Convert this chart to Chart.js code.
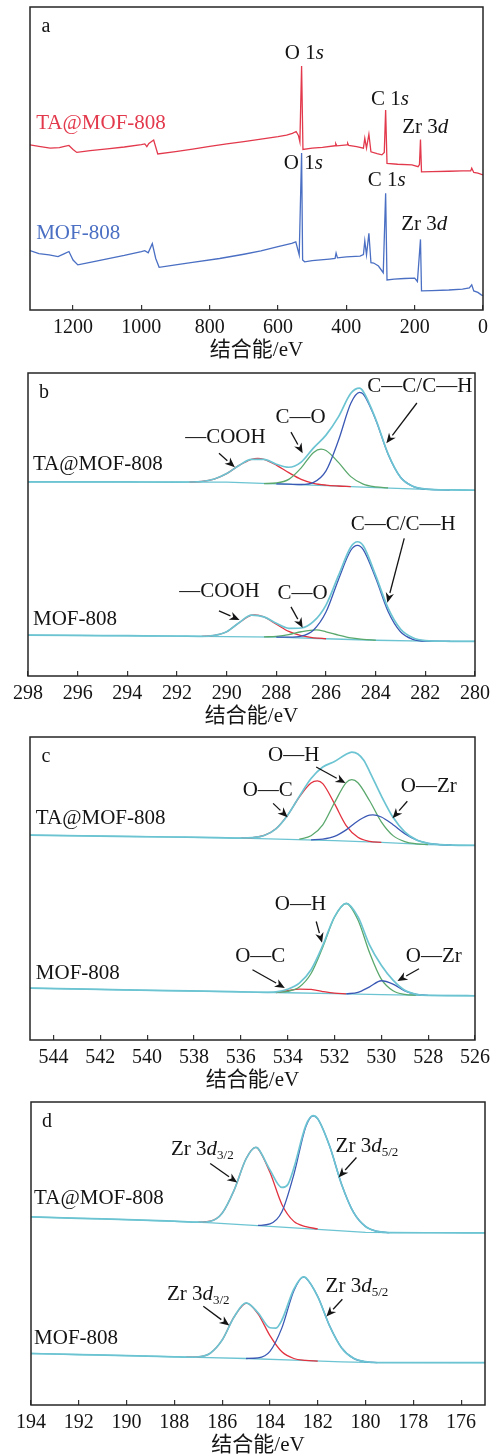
<!DOCTYPE html>
<html>
<head>
<meta charset="utf-8">
<script src="https://cdn.jsdelivr.net/npm/chart.js@4.4.1/dist/chart.umd.min.js"></script>
<style>
  html, body { margin: 0; padding: 0; background: #fff; width: 501px; height: 1456px; overflow: hidden; }
  .panel { position: absolute; left: 0; width: 501px; height: 364px; }
</style>
</head>
<body>
<div class="panel" style="top:0px"><canvas id="chartA" width="501" height="364"></canvas></div>
<div class="panel" style="top:366px"><canvas id="chartB" width="501" height="364"></canvas></div>
<div class="panel" style="top:730px"><canvas id="chartC" width="501" height="364"></canvas></div>
<div class="panel" style="top:1095px"><canvas id="chartD" width="501" height="364"></canvas></div>
<script>
// ---- a: survey spectra ----
const surveyE_TA = [1326, 1300, 1267, 1240, 1225, 1212, 1200, 1189, 1150, 1100, 1050, 1000, 990, 984, 978, 964, 952, 900, 850, 800, 750, 700, 650, 600, 575, 558, 547, 540, 536, 531, 527, 500, 470, 433, 431, 428, 398, 396, 393, 370, 350, 346, 341, 334, 328, 310, 296, 289, 285, 281, 250, 208, 190, 186, 183, 180, 150, 100, 60, 36, 33, 27, 15, 0];
const surveyI_TA = [54.5, 54.0, 53.4, 53.6, 54.0, 54.3, 53.0, 52.0, 52.6, 53.2, 53.8, 54.6, 54.8, 53.9, 55.0, 56.1, 51.5, 52.3, 53.1, 54.0, 54.8, 55.6, 56.4, 57.2, 57.7, 58.3, 58.9, 57.5, 55.5, 80.5, 53.0, 53.4, 53.7, 54.2, 54.9, 54.2, 54.5, 55.0, 54.3, 53.9, 53.4, 56.7, 53.4, 58.0, 52.2, 51.6, 51.2, 52.0, 66.0, 48.4, 48.1, 47.9, 47.3, 48.0, 56.3, 45.6, 45.7, 45.8, 45.9, 45.9, 46.8, 45.4, 45.2, 44.6];
const surveyE_MOF = [1326, 1300, 1270, 1244, 1225, 1212, 1200, 1186, 1150, 1100, 1050, 1000, 990, 980, 968, 958, 948, 900, 850, 771, 700, 650, 600, 560, 548, 538, 531, 528, 522, 500, 450, 433, 430, 426, 400, 360, 350, 346, 341, 334, 328, 320, 306, 292, 285, 281, 260, 230, 200, 192, 183, 180, 150, 100, 60, 40, 33, 27, 15, 5, 0];
const surveyI_MOF = [19.6, 18.6, 18.2, 17.6, 18.6, 19.3, 16.5, 14.9, 15.7, 16.9, 18.0, 19.3, 19.6, 18.9, 21.9, 17.0, 14.1, 14.9, 15.7, 17.0, 18.4, 19.5, 20.9, 22.0, 22.5, 18.2, 51.8, 16.5, 15.9, 16.3, 16.8, 17.0, 18.8, 17.2, 17.5, 17.8, 18.3, 22.8, 18.2, 25.3, 15.6, 15.5, 14.5, 12.3, 38.5, 9.9, 10.2, 10.4, 10.5, 9.4, 23.3, 6.3, 6.4, 6.6, 6.9, 7.3, 8.3, 6.3, 5.8, 5.0, 4.7];

// ---- b: C 1s ----
const c1sBaseE = [298, 291, 290, 288, 286, 284, 282, 280];
const c1sBase_TA = [64.1, 64.0, 64.0, 63.4, 62.8, 62.2, 61.6, 61.3];
const c1sEnvE_TA = [298, 296, 294, 292, 291, 290.5, 290, 289.5, 289, 288.5, 288, 287.5, 287, 286.5, 286, 285.5, 285, 284.65, 284.5, 284, 283.5, 283, 282.5, 282, 281, 280];
const c1sEnv_TA = [64.1, 64.1, 64.05, 64.0, 64.2, 65.0, 66.8, 69.5, 71.5, 71.5, 69.9, 68.9, 70.6, 75.3, 79.5, 85.5, 93.3, 95.0, 93.9, 84.8, 73.3, 65.6, 62.6, 61.7, 61.4, 61.3];
const c1sCoohE_TA = [291.5, 291, 290.5, 290, 289.5, 289, 288.75, 288.5, 288, 287.5, 287, 286.5, 286, 285.5, 285];
const c1sCooh_TA = [64.0, 64.2, 65.0, 66.8, 69.5, 71.5, 71.8, 71.5, 69.6, 67.1, 64.9, 63.6, 63.0, 62.7, 62.5];
const c1sCoE_TA = [288.5, 288, 287.5, 287, 286.5, 286.2, 286, 285.5, 285, 284.5, 284, 283.5];
const c1sCo_TA = [63.5, 63.7, 64.9, 68.7, 73.8, 74.9, 74.4, 70.5, 65.8, 63.3, 62.4, 62.1];
const c1sCcE_TA = [288, 287.5, 287, 286.5, 286, 285.5, 285, 284.65, 284.5, 284, 283.5, 283, 282.5, 282, 281.5, 281];
const c1sCc_TA = [63.4, 63.3, 63.2, 63.9, 67.7, 77.7, 90.0, 93.6, 93.0, 84.6, 73.2, 65.6, 62.6, 61.7, 61.5, 61.4];

const c1sBaseE_MOF = [298, 291, 288, 286, 284, 282, 280];
const c1sBase_MOF = [13.5, 13.1, 12.8, 12.3, 11.8, 11.5, 11.4];
const c1sEnvE_MOF = [298, 296, 294, 292, 291, 290.5, 290, 289.5, 289, 288.5, 288, 287.5, 287, 286.5, 286, 285.5, 285, 284.73, 284.5, 284, 283.5, 283, 282.5, 282, 281, 280];
const c1sEnv_MOF = [13.5, 13.4, 13.3, 13.2, 13.1, 13.4, 14.6, 17.6, 20.1, 19.5, 17.4, 15.75, 15.85, 18.0, 23.4, 33.1, 42.6, 44.3, 43.0, 33.2, 22.4, 15.5, 12.6, 11.7, 11.45, 11.4];
const c1sCoohE_MOF = [291, 290.5, 290, 289.5, 289, 288.87, 288.5, 288, 287.5, 287, 286.5, 286];
const c1sCooh_MOF = [13.1, 13.4, 14.6, 17.6, 20.1, 20.2, 19.5, 17.1, 14.7, 13.3, 12.6, 12.3];
const c1sCoE_MOF = [288.5, 288, 287.5, 287, 286.4, 286, 285.5, 285, 284.5, 284];
const c1sCo_MOF = [12.9, 13.1, 13.65, 14.6, 15.2, 14.6, 13.5, 12.55, 12.1, 11.8];
const c1sCcE_MOF = [288, 287.5, 287, 286.5, 286, 285.5, 285, 284.73, 284.5, 284, 283.5, 283, 282.5, 282, 281];
const c1sCc_MOF = [12.8, 12.8, 13.15, 15.2, 21.1, 31.8, 41.5, 43.1, 41.7, 32.3, 21.3, 14.6, 12.1, 11.5, 11.45];

// ---- c: O 1s ----
const o1sBaseE = [545, 540, 536, 534, 532, 530, 528, 526];
const o1sBase_TA = [67.6, 67.1, 66.6, 66.2, 65.8, 65.2, 64.5, 64.2];
const o1sEnvE_TA = [545, 542, 539, 537, 536, 535.5, 535, 534.5, 534, 533.5, 533, 532.5, 532, 531.5, 531.26, 531, 530.75, 530.5, 530, 529.5, 529, 528.5, 528, 527.5, 527, 526];
const o1sEnv_TA = [67.6, 67.3, 67.0, 66.8, 66.65, 66.8, 67.5, 69.7, 74.2, 80.4, 86.3, 90.1, 91.9, 94.3, 95.0, 94.4, 92.3, 88.6, 80.6, 73.5, 68.7, 66.05, 64.9, 64.5, 64.3, 64.2];
const o1sOcE_TA = [536, 535.5, 535, 534.5, 534, 533.5, 533, 532.73, 532.5, 532, 531.5, 531, 530.5, 530];
const o1sOc_TA = [66.65, 66.8, 67.5, 69.7, 74.2, 80.2, 84.8, 85.5, 84.6, 78.0, 70.75, 66.9, 65.55, 65.2];
const o1sOhE_TA = [533.5, 533, 532.5, 532, 531.5, 531.26, 531, 530.5, 530, 529.5, 529, 528.5, 528];
const o1sOh_TA = [66.3, 67.4, 71.0, 78.3, 84.95, 85.9, 84.9, 78.95, 72.0, 67.45, 65.5, 64.75, 64.5];
const o1sOzrE_TA = [533, 532.5, 532, 531.5, 531, 530.5, 530.36, 530, 529.5, 529, 528.5, 528, 527.5, 527];
const o1sOzr_TA = [66.07, 66.3, 67.2, 69.35, 72.3, 74.25, 74.3, 73.6, 71.05, 68.1, 66.0, 64.9, 64.5, 64.3];

const o1sBase_MOF = [17.1, 16.4, 15.9, 15.6, 15.3, 15.0, 14.7, 14.6];
const o1sEnvE_MOF = [545, 542, 539, 537, 536, 535, 534.5, 534, 533.5, 533, 532.5, 532, 531.5, 531, 530.5, 530, 529.5, 529, 528.5, 528, 527, 526];
const o1sEnv_MOF = [17.1, 16.7, 16.3, 16.05, 15.9, 15.75, 15.9, 16.75, 18.8, 23.2, 31.2, 40.65, 45.1, 40.7, 31.3, 24.65, 19.75, 16.4, 15.06, 14.7, 14.65, 14.6];
const o1sOcE_MOF = [534.5, 534, 533.5, 533, 532.5, 532, 531.5];
const o1sOc_MOF = [15.65, 16.3, 16.8, 16.7, 16.0, 15.45, 15.25];
const o1sOhE_MOF = [534.5, 534, 533.5, 533, 532.5, 532, 531.5, 531, 530.5, 530, 529.5, 529, 528.5];
const o1sOh_MOF = [15.7, 16.05, 17.5, 21.95, 30.6, 40.5, 45.05, 39.7, 28.8, 20.1, 16.25, 15.05, 14.8];
const o1sOzrE_MOF = [531.5, 531, 530.5, 530, 529.5, 529, 528.5, 528];
const o1sOzr_MOF = [15.25, 15.7, 17.55, 19.55, 18.45, 16.2, 15.06, 14.7];

// ---- d: Zr 3d ----
const zrBaseE_TA = [194, 190, 186.6, 184, 182, 180, 178, 175];
const zrBase_TA = [62.1, 61.2, 60.2, 58.94, 57.97, 57.0, 56.9, 56.8];
const zrEnvE_TA = [194, 192, 190, 188, 187, 186.5, 186, 185.5, 185, 184.6, 184.5, 184, 183.5, 183.25, 183, 182.5, 182.2, 182, 181.5, 181, 180.5, 180, 179.5, 179, 177, 175];
const zrEnv_TA = [62.1, 61.6, 61.2, 60.7, 60.35, 60.65, 63.3, 70.9, 81.25, 85.05, 84.7, 77.6, 71.8, 72.8, 78.2, 92.2, 95.5, 94.5, 85.4, 72.8, 63.55, 58.9, 57.3, 56.9, 56.85, 56.8];
const zr32E_TA = [187, 186.5, 186, 185.5, 185, 184.6, 184.5, 184, 183.5, 183, 182.5, 182];
const zr32_TA = [60.35, 60.65, 63.3, 70.9, 81.25, 85.0, 84.65, 76.8, 66.2, 60.6, 58.9, 58.1];
const zr52E_TA = [184.5, 184, 183.5, 183, 182.5, 182.2, 182, 181.5, 181, 180.5, 180, 179.5, 179];
const zr52_TA = [59.25, 59.75, 63.75, 76.05, 91.8, 95.45, 94.47, 85.4, 72.8, 63.55, 58.9, 57.3, 56.9];

const zrBaseE_MOF = [194, 190, 187, 185, 183, 181, 180, 175];
const zrBase_MOF = [17.0, 16.3, 15.7, 15.35, 14.8, 14.25, 14.05, 14.0];
const zrEnvE_MOF = [194, 192, 190, 188, 187.5, 187, 186.5, 186, 185.5, 185, 184.5, 184, 183.75, 183.5, 183, 182.6, 182.5, 182, 181.5, 181, 180.5, 180, 179.5, 177, 175];
const zrEnv_MOF = [17.0, 16.65, 16.3, 15.9, 15.8, 15.9, 17.1, 21.45, 29.05, 33.7, 30.45, 25.5, 25.4, 28.05, 38.25, 42.3, 42.05, 35.8, 26.05, 18.85, 15.4, 14.3, 14.0, 14.0, 14.0];
const zr32E_MOF = [187.5, 187, 186.5, 186, 185.5, 184.98, 184.5, 184, 183.5, 183, 182.5, 182];
const zr32_MOF = [15.8, 15.9, 17.1, 21.45, 29.05, 33.65, 30.1, 22.9, 17.55, 15.35, 14.75, 14.5];
const zr52E_MOF = [185, 184.5, 184, 183.5, 183, 182.61, 182.5, 182, 181.5, 181, 180.5, 180, 179.5];
const zr52_MOF = [15.35, 15.55, 17.7, 25.45, 37.7, 42.23, 41.95, 35.8, 26.05, 18.85, 15.4, 14.3, 14.0];

const SERIF = '"Liberation Serif", "Times New Roman", serif';
const CJK = '"Liberation Serif", "Noto Sans CJK SC", serif';
const RED = '#e3394c';
const BLUE = '#4a6fc3';
const CYAN = '#6cc4d2';
const FIT_RED = '#e2323f';
const FIT_GREEN = '#5aa86c';
const FIT_BLUE = '#3a58b4';
const INK = '#141414';

function pts(xs, ys) {
  return xs.map((x, i) => ({ x: x, y: ys[i] }));
}

// width: survey 1.3, fit components 1.3, envelope a bit wider so it covers them
function curve(xs, ys, color, order, smooth, width) {
  return {
    data: pts(xs, ys),
    borderColor: color,
    borderWidth: width || 1.3,
    pointRadius: 0,
    fill: false,
    order: order,
    tension: 0,
    cubicInterpolationMode: smooth ? 'monotone' : 'default'
  };
}

// box around the plot area
const framePlugin = {
  id: 'frame',
  afterDatasetsDraw(chart) {
    const { ctx, chartArea: a } = chart;
    ctx.save();
    ctx.strokeStyle = '#262626';
    ctx.lineWidth = 1.5;
    ctx.strokeRect(a.left, a.top, a.right - a.left, a.bottom - a.top);
    ctx.restore();
  }
};

// text with _italic_ and ~subscript~ parts
function drawRich(ctx, spec, x, y, align, size, color) {
  const parts = spec.split(/(_[^_]+_|~[^~]+~)/).filter(Boolean).map(p => {
    if (p[0] === '_') return { t: p.slice(1, -1), font: 'italic ' + size + 'px ' + SERIF, dy: 0 };
    if (p[0] === '~') return { t: p.slice(1, -1), font: Math.round(size * 0.62) + 'px ' + SERIF, dy: size * 0.28 };
    return { t: p, font: size + 'px ' + SERIF, dy: 0 };
  });
  let w = 0;
  parts.forEach(p => { ctx.font = p.font; p.w = ctx.measureText(p.t).width; w += p.w; });
  let cx = align === 'center' ? x - w / 2 : x;
  ctx.fillStyle = color;
  ctx.textAlign = 'left';
  ctx.textBaseline = 'middle';
  parts.forEach(p => { ctx.font = p.font; ctx.fillText(p.t, cx, y + p.dy); cx += p.w; });
}

function drawArrow(ctx, x1, y1, x2, y2) {
  const ang = Math.atan2(y2 - y1, x2 - x1);
  const len = 10, half = 4.2;
  const bx = x2 - len * Math.cos(ang), by = y2 - len * Math.sin(ang);
  ctx.strokeStyle = INK;
  ctx.lineWidth = 1.3;
  ctx.beginPath();
  ctx.moveTo(x1, y1);
  ctx.lineTo(bx, by);
  ctx.stroke();
  ctx.fillStyle = INK;
  ctx.beginPath();
  ctx.moveTo(x2, y2);
  ctx.lineTo(bx + half * Math.sin(ang), by - half * Math.cos(ang));
  ctx.lineTo(bx + 3 * Math.cos(ang), by + 3 * Math.sin(ang));
  ctx.lineTo(bx - half * Math.sin(ang), by + half * Math.cos(ang));
  ctx.closePath();
  ctx.fill();
}

function notesPlugin(letter, samples, notes, arrows) {
  return {
    id: 'notes',
    afterDatasetsDraw(chart) {
      const { ctx, chartArea: a, scales: { x, y } } = chart;
      ctx.save();
      ctx.font = '20px ' + SERIF;
      ctx.fillStyle = INK;
      ctx.textAlign = 'center';
      ctx.textBaseline = 'middle';
      ctx.fillText(letter, a.left + 16, a.top + 20);
      samples.forEach(s => drawRich(ctx, s.text, x.getPixelForValue(s.x), y.getPixelForValue(s.y), 'left', 21, s.color));
      notes.forEach(n => drawRich(ctx, n.text, x.getPixelForValue(n.x), y.getPixelForValue(n.y), 'center', 21, INK));
      arrows.forEach(r => drawArrow(ctx, x.getPixelForValue(r[0]), y.getPixelForValue(r[1]), x.getPixelForValue(r[2]), y.getPixelForValue(r[3])));
      ctx.restore();
    }
  };
}

function makeChart(id, o) {
  return new Chart(document.getElementById(id), {
    type: 'line',
    data: { datasets: o.datasets },
    options: {
      responsive: false,
      animation: false,
      devicePixelRatio: 1,
      layout: { padding: { left: o.pad[0], right: o.pad[1], top: 7, bottom: 0 } },
      plugins: { legend: { display: false }, tooltip: { enabled: false } },
      scales: {
        x: {
          type: 'linear',
          reverse: true,
          min: o.min,
          max: o.max,
          afterFit: s => { s.height = 54; },
          border: { display: false },
          grid: { drawOnChartArea: false, drawTicks: true, tickLength: -5, color: '#333', lineWidth: 1.2 },
          ticks: {
            stepSize: o.step, includeBounds: false, autoSkip: false, maxRotation: 0,
            padding: 11, color: INK, font: { family: SERIF, size: 20 },
            callback: v => String(v)
          },
          title: { display: true, text: '结合能/eV', color: INK, font: { family: CJK, size: 21 }, padding: { top: 0, bottom: 1 } }
        },
        y: { display: false, min: 0, max: 100 }
      }
    },
    plugins: [framePlugin, notesPlugin(o.letter, o.samples, o.notes, o.arrows)]
  });
}

makeChart('chartA', {
  pad: [30, 18], min: 0, max: 1326, step: 200, letter: 'a',
  datasets: [
    curve(surveyE_TA, surveyI_TA, RED, 1, false),
    curve(surveyE_MOF, surveyI_MOF, BLUE, 0, false)
  ],
  samples: [
    { text: 'TA@MOF-808', x: 1308, y: 61.7, color: RED },
    { text: 'MOF-808', x: 1308, y: 25.4, color: BLUE }
  ],
  notes: [
    { text: 'O 1_s_', x: 523, y: 84.8 },
    { text: 'C 1_s_', x: 272, y: 69.6 },
    { text: 'Zr 3_d_', x: 169, y: 60.4 },
    { text: 'O 1_s_', x: 526, y: 48.5 },
    { text: 'C 1_s_', x: 282, y: 42.6 },
    { text: 'Zr 3_d_', x: 172, y: 28.1 }
  ],
  arrows: []
});

makeChart('chartB', {
  pad: [28, 19], min: 280, max: 298, step: 2, letter: 'b',
  datasets: [
    curve(c1sBaseE, c1sBase_TA, CYAN, 5, false),
    curve(c1sCoohE_TA, c1sCooh_TA, FIT_RED, 3, true),
    curve(c1sCoE_TA, c1sCo_TA, FIT_GREEN, 2, true),
    curve(c1sCcE_TA, c1sCc_TA, FIT_BLUE, 1, true),
    curve(c1sEnvE_TA, c1sEnv_TA, CYAN, 0, true, 1.7),
    curve(c1sBaseE_MOF, c1sBase_MOF, CYAN, 5, false),
    curve(c1sCoohE_MOF, c1sCooh_MOF, FIT_RED, 3, true),
    curve(c1sCoE_MOF, c1sCo_MOF, FIT_GREEN, 2, true),
    curve(c1sCcE_MOF, c1sCc_MOF, FIT_BLUE, 1, true),
    curve(c1sEnvE_MOF, c1sEnv_MOF, CYAN, 0, true, 1.7)
  ],
  samples: [
    { text: 'TA@MOF-808', x: 297.8, y: 69.9, color: INK },
    { text: 'MOF-808', x: 297.8, y: 18.5, color: INK }
  ],
  notes: [
    { text: '—COOH', x: 290.05, y: 78.8 },
    { text: 'C—O', x: 287.02, y: 85.4 },
    { text: 'C—C/C—H', x: 282.22, y: 95.4 },
    { text: 'C—C/C—H', x: 282.89, y: 50.0 },
    { text: '—COOH', x: 290.29, y: 27.8 },
    { text: 'C—O', x: 286.94, y: 27.2 }
  ],
  arrows: [
    [290.31, 73.5, 289.67, 68.9],
    [287.41, 80.5, 286.94, 73.5],
    [282.34, 90.1, 283.57, 76.8],
    [282.85, 45.4, 283.53, 24.2],
    [290.31, 21.5, 289.48, 18.5],
    [287.41, 22.8, 286.94, 15.9]
  ]
});

makeChart('chartC', {
  pad: [30, 17], min: 526, max: 545, step: 2, letter: 'c',
  datasets: [
    curve(o1sBaseE, o1sBase_TA, CYAN, 5, false),
    curve(o1sOcE_TA, o1sOc_TA, FIT_RED, 3, true),
    curve(o1sOhE_TA, o1sOh_TA, FIT_GREEN, 2, true),
    curve(o1sOzrE_TA, o1sOzr_TA, FIT_BLUE, 1, true),
    curve(o1sEnvE_TA, o1sEnv_TA, CYAN, 0, true, 1.7),
    curve(o1sBaseE, o1sBase_MOF, CYAN, 5, false),
    curve(o1sOcE_MOF, o1sOc_MOF, FIT_RED, 3, true),
    curve(o1sOhE_MOF, o1sOh_MOF, FIT_GREEN, 2, true),
    curve(o1sOzrE_MOF, o1sOzr_MOF, FIT_BLUE, 1, true),
    curve(o1sEnvE_MOF, o1sEnv_MOF, CYAN, 0, true, 1.7)
  ],
  samples: [
    { text: 'TA@MOF-808', x: 544.75, y: 73.2, color: INK },
    { text: 'MOF-808', x: 544.75, y: 21.9, color: INK }
  ],
  notes: [
    { text: 'O—C', x: 534.85, y: 82.5 },
    { text: 'O—H', x: 533.74, y: 94.0 },
    { text: 'O—Zr', x: 527.97, y: 83.8 },
    { text: 'O—H', x: 533.45, y: 44.7 },
    { text: 'O—C', x: 535.17, y: 27.5 },
    { text: 'O—Zr', x: 527.76, y: 27.5 }
  ],
  arrows: [
    [534.62, 78.1, 534.0, 73.5],
    [532.78, 90.1, 531.53, 84.8],
    [528.89, 78.8, 529.52, 73.2],
    [532.78, 39.1, 532.53, 32.1],
    [535.5, 23.2, 534.12, 17.2],
    [528.39, 23.5, 529.31, 19.5]
  ]
});

makeChart('chartD', {
  pad: [31, 16], min: 175, max: 194, step: 2, letter: 'd',
  datasets: [
    curve(zrBaseE_TA, zrBase_TA, CYAN, 5, false),
    curve(zr32E_TA, zr32_TA, FIT_RED, 2, true),
    curve(zr52E_TA, zr52_TA, FIT_BLUE, 1, true),
    curve(zrEnvE_TA, zrEnv_TA, CYAN, 0, true, 1.7),
    curve(zrBaseE_MOF, zrBase_MOF, CYAN, 5, false),
    curve(zr32E_MOF, zr32_MOF, FIT_RED, 2, true),
    curve(zr52E_MOF, zr52_MOF, FIT_BLUE, 1, true),
    curve(zrEnvE_MOF, zrEnv_MOF, CYAN, 0, true, 1.7)
  ],
  samples: [
    { text: 'TA@MOF-808', x: 193.87, y: 68.1, color: INK },
    { text: 'MOF-808', x: 193.87, y: 21.9, color: INK }
  ],
  notes: [
    { text: 'Zr 3_d_~3/2~', x: 186.83, y: 84.4 },
    { text: 'Zr 3_d_~5/2~', x: 179.94, y: 85.4 },
    { text: 'Zr 3_d_~3/2~', x: 187.0, y: 36.5 },
    { text: 'Zr 3_d_~5/2~', x: 180.36, y: 39.2 }
  ],
  arrows: [
    [186.5, 79.7, 185.37, 73.4],
    [180.38, 81.7, 181.13, 75.1],
    [186.79, 32.6, 185.7, 26.2],
    [180.97, 34.9, 181.64, 29.2]
  ]
});
</script>
</body>
</html>
